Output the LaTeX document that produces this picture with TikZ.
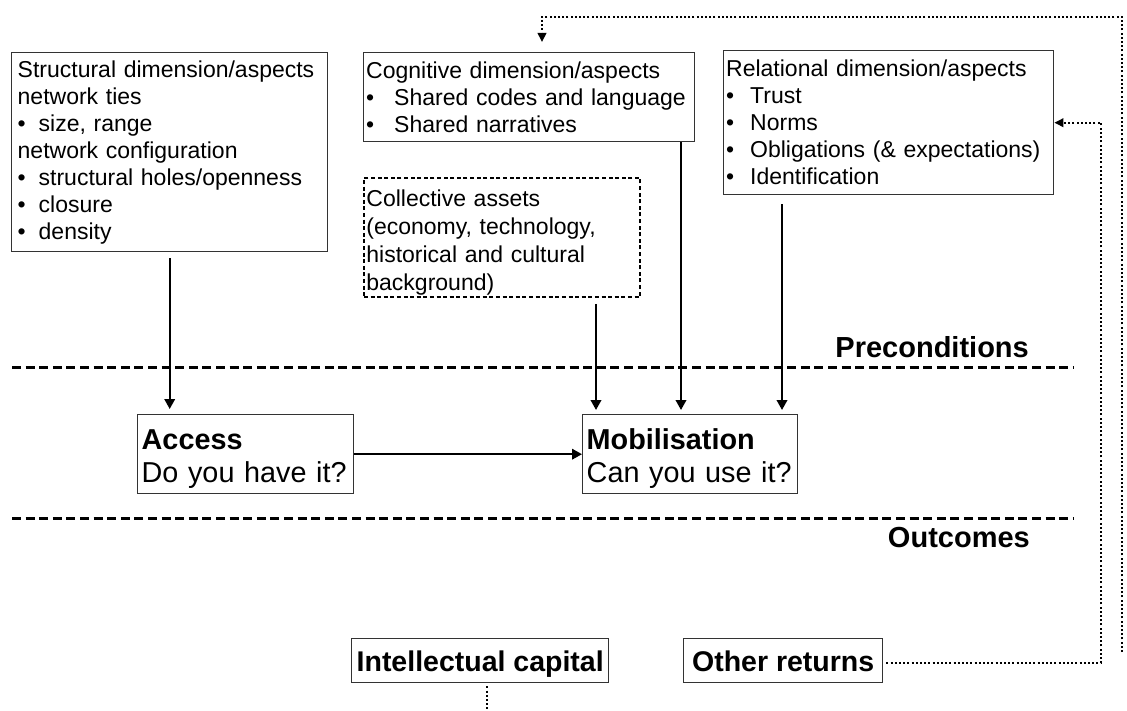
\documentclass[tikz,border=0pt]{standalone}
\usepackage{fontspec}
\setmainfont{Liberation Sans}
\usetikzlibrary{arrows.meta,calc}
\begin{document}
\begin{tikzpicture}[x=1pt,y=-1pt,
  box/.style={draw=black!80, line width=1.4pt, anchor=north west, align=left,
    inner ysep=0pt, inner xsep=2.5pt, text=black,
    font=\fontsize{23}{27}\selectfont},
  dashbox/.style={box, draw=black, line width=1.8pt, dash pattern=on 4pt off 2.6pt},
  keybox/.style={box, inner xsep=4pt, font=\fontsize{28.8}{33}\selectfont},
  outbox/.style={draw=black!80, line width=1.4pt, anchor=north west, align=center,
    inner sep=0pt, text depth=0pt, font=\bfseries\fontsize{28.5}{30}\selectfont},
  zone/.style={anchor=east, inner sep=0pt, font=\bfseries\fontsize{29}{30}\selectfont},
  sep/.style={line width=3pt, dash pattern=on 9pt off 4.6pt},
  arr/.style={line width=2pt, -{Triangle[length=10pt,width=10.5pt]}},
  dot/.style={line width=2pt, dash pattern=on 2pt off 2.2pt},
  dotarr/.style={dot, -{Triangle[length=9pt,width=8.5pt]}}
]
\useasboundingbox (0,0) rectangle (1127,711);

% ---- dimensions of social capital ----
\node[box, inner xsep=6pt, minimum width=316pt, minimum height=199pt, text width=304pt]
  (struct) at (11,52)
  {Structural dimension/aspects\\
   network ties\\
   \makebox[21pt][l]{\textbullet}size, range\\
   network configuration\\
   \makebox[21pt][l]{\textbullet}structural holes/openness\\
   \makebox[21pt][l]{\textbullet}closure\\
   \makebox[21pt][l]{\textbullet}density};

\node[box, minimum width=331pt, minimum height=89pt, text width=326pt]
  (cog) at (363,52)
  {Cognitive dimension/aspects\\
   \makebox[28pt][l]{\textbullet}Shared codes and language\\
   \makebox[28pt][l]{\textbullet}Shared narratives};

\node[box, minimum width=330pt, minimum height=144pt, text width=325pt]
  (rel) at (723,50)
  {Relational dimension/aspects\\
   \makebox[24pt][l]{\textbullet}Trust\\
   \makebox[24pt][l]{\textbullet}Norms\\
   \makebox[24pt][l]{\textbullet}Obligations (\& expectations)\\
   \makebox[24pt][l]{\textbullet}Identification};

\node[dashbox, minimum width=276pt, minimum height=119pt, text width=271pt,
  font=\fontsize{23}{28}\selectfont]
  (coll) at (363,177)
  {\rule{0pt}{27pt}Collective assets\\
   (economy, technology,\\
   historical and cultural\\
   background)};

% ---- access and mobilisation ----
\node[keybox, minimum width=216pt, minimum height=79pt, text width=208pt]
  (acc) at (137,414) {\rule{0pt}{29pt}\textbf{Access}\\Do you have it?};
\node[keybox, minimum width=215pt, minimum height=79pt, text width=207pt]
  (mob) at (582,414) {\rule{0pt}{29pt}\textbf{Mobilisation}\\Can you use it?};

% ---- outcomes ----
\node[outbox, minimum width=257pt, minimum height=44pt] (ic) at (351,638) {Intellectual capital};
\node[outbox, minimum width=199pt, minimum height=44pt] (oth) at (683,638) {Other returns};

% ---- zone separators and labels ----
\coordinate (sepAL) at (12,367);  \coordinate (sepAR) at (1073,367);
\coordinate (sepBL) at (12,518);  \coordinate (sepBR) at (1073,518);
\draw[sep] (sepAL) -- (sepAR);
\draw[sep] (sepBL) -- (sepBR);
\node[zone] (pre) at (1029,347) {Preconditions};
\node[zone] (out) at (1030,538) {Outcomes};

% ---- solid connectors ----
\draw[arr, shorten <=6pt, shorten >=5pt] (struct.south) -- (struct.south |- acc.north);
\draw[arr] (acc.east) -- (mob.west);
\coordinate (ma) at ([xshift=14pt]mob.north west);
\coordinate (mb) at ([xshift=99pt]mob.north west);
\coordinate (mc) at ([xshift=200pt]mob.north west);
\draw[arr, shorten <=6pt, shorten >=4pt] (coll.south -| ma) -- (ma);
\draw[arr, shorten >=4pt] (cog.south -| mb) -- (mb);
\draw[arr, shorten <=9pt, shorten >=4pt] (rel.south -| mc) -- (mc);

% ---- dotted feedback loops ----
\coordinate (fbA) at (1101,0);
\draw[dotarr, shorten <=3pt] ([yshift=-2pt]oth.east) -| (fbA |- rel.east) -- (rel.east);
\coordinate (fbB) at (1122,652);
\coordinate (fbC) at (1122,17);
\coordinate (cogIn) at ([xshift=179pt]cog.north west);
\draw[dotarr, shorten >=10pt] (fbB) -- (fbC) -| (cogIn);
\coordinate (icEnd) at (487,711);
\draw[dot, shorten <=3pt] (ic.south -| icEnd) -- (icEnd);
\end{tikzpicture}
\end{document}
